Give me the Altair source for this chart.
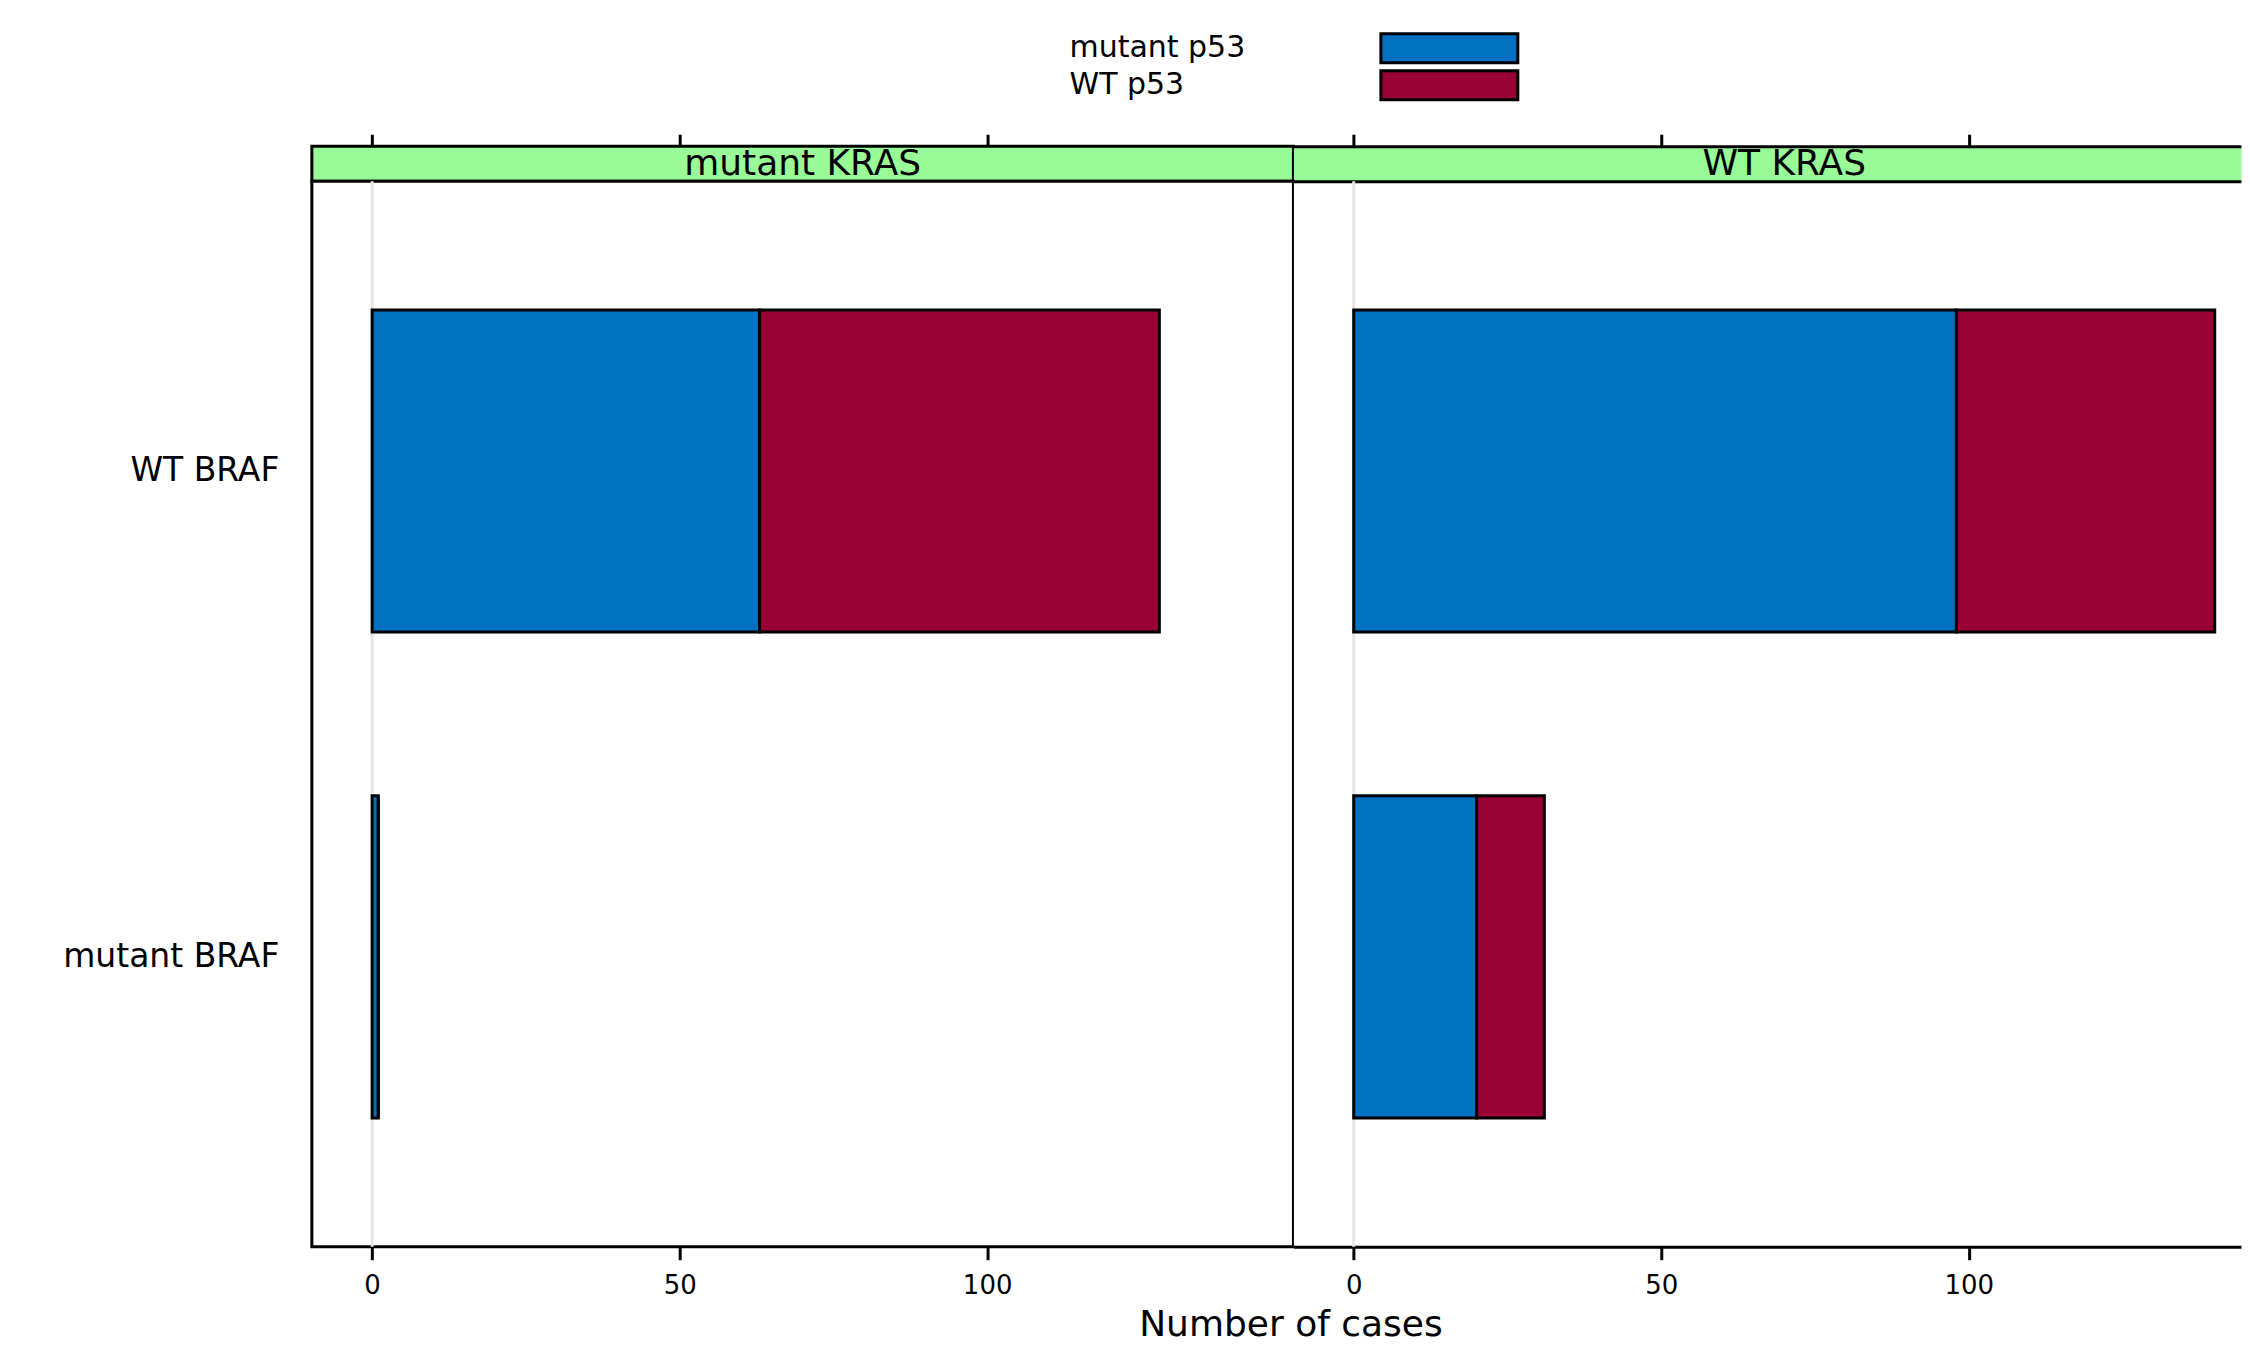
import altair as alt
import pandas as pd

# ---- data ----
kras_levels = ["mutant KRAS", "WT KRAS"]
braf_levels = ["WT BRAF", "mutant BRAF"]
p53_levels = ["mutant p53", "WT p53"]

# counts per p53 status: [mutant p53, WT p53]
mutKRAS_WTBRAF = [63, 65]
mutKRAS_mutBRAF = [1, 0]
WTKRAS_WTBRAF = [98, 42]
WTKRAS_mutBRAF = [20, 11]

x_ticks = [0, 50, 100]
p53_colors = ["#0071C1", "#990033"]

rows = []
tables = [[mutKRAS_WTBRAF, mutKRAS_mutBRAF], [WTKRAS_WTBRAF, WTKRAS_mutBRAF]]
for k, table in zip(kras_levels, tables):
    for b, vals in zip(braf_levels, table):
        for i, (p, v) in enumerate(zip(p53_levels, vals)):
            rows.append(dict(kras=k, braf=b, p53=p, p53_order=i, count=v))
df = pd.DataFrame(rows)

# ---- layout constants ----
PANEL_W = 982          # full panel width
RIGHT_W = 948          # right panel is cut by the image edge
MAIN_H = 1066
STRIP_H = 35
X_LO, X_HI = -9.8, 149.8
X_HI_R = X_LO + (X_HI - X_LO) * RIGHT_W / PANEL_W
FONT = "DejaVu Sans"
LW = 3

color_scale = alt.Scale(domain=p53_levels, range=p53_colors)
legend = alt.Legend(
    title=None, orient="none", legendX=726, legendY=-114,
    # wide swatch drawn to the right of its label (lattice key layout)
    symbolType="M22.586,-1H32.034V1H22.586Z", symbolSize=841,
    symbolStrokeColor="black", symbolStrokeWidth=LW, symbolOpacity=1,
    symbolOffset=0,
    labelFontSize=30, labelColor="black", labelAlign="left",
    labelOffset=0, labelLimit=0, rowPadding=alt.ExprRef(expr="-9"), padding=0,
)


def xscale(hi):
    return alt.Scale(domain=[X_LO, hi], nice=False, zero=False)


def main_panel(k, first):
    sub = df[df.kras == k]
    hi = X_HI if first else X_HI_R
    xaxis = alt.Axis(
        values=x_ticks, grid=False, domain=not first, domainColor="black",
        domainWidth=LW, ticks=True, tickSize=13,
        tickWidth=LW, tickColor="black", labelFontSize=26, labelColor="black",
        labelPadding=13, labelFlush=False,
        title="Number of cases" if first else None,
        titleFontSize=36, titleFontWeight="normal", titleColor="black",
        titleX=979, titleY=89, titleAlign="center", titleBaseline="alphabetic",
    )
    top_axis = alt.Axis(
        orient="top", values=x_ticks, grid=False, domain=True, domainColor="black",
        domainWidth=LW, ticks=False, labels=False, title=None,
    )
    if first:
        yaxis = alt.Axis(
            title=None, domain=False, ticks=False, grid=False,
            labelFontSize=33, labelColor="black", labelPadding=33,
            labelLimit=0, minExtent=302, maxExtent=302,
        )
    else:
        yaxis = None
    zero_df = pd.DataFrame({"count": [0]})
    rule = alt.Chart(zero_df).mark_rule(color="#E6E6E6", strokeWidth=LW).encode(
        x=alt.X("count:Q", scale=xscale(hi), axis=xaxis if first else top_axis)
    )
    bars = alt.Chart(sub).mark_bar(stroke="black", strokeWidth=LW).encode(
        x=alt.X("count:Q", stack="zero", scale=xscale(hi), axis=xaxis),
        y=alt.Y("braf:N", sort=braf_levels,
                scale=alt.Scale(domain=braf_levels, paddingInner=0.337, paddingOuter=0.265),
                axis=yaxis),
        color=alt.Color("p53:N", scale=color_scale, legend=legend),
        order=alt.Order("p53_order:Q", sort="ascending"),
    )
    if first:
        return alt.layer(rule, bars).properties(
            width=PANEL_W, height=MAIN_H,
            view=alt.ViewBackground(stroke="black", strokeWidth=LW, fill="white"),
        )
    return alt.layer(rule, bars).resolve_axis(x="independent").properties(
        width=RIGHT_W, height=MAIN_H,
        view=alt.ViewBackground(stroke="transparent", fill="white"),
    )


def strip_panel(k, first):
    sdf = pd.DataFrame({"kras": [k], "count": [0]})
    base = alt.Chart(sdf)
    hi = X_HI if first else X_HI_R
    ticks = base.mark_rule(strokeOpacity=0).encode(
        x=alt.X("count:Q", scale=xscale(hi), axis=alt.Axis(
            orient="top", values=x_ticks, labels=False, grid=False,
            domain=not first, domainColor="black", domainWidth=LW,
            ticks=True, tickSize=12, tickWidth=LW, tickColor="black", title=None))
    )
    label = base.mark_text(fontSize=36, color="black", baseline="middle", align="center").encode(
        text="kras:N", x=alt.value(PANEL_W / 2), y=alt.value(STRIP_H / 2)
    )
    view = (alt.ViewBackground(fill="#98FB98", stroke="black", strokeWidth=LW) if first
            else alt.ViewBackground(fill="#98FB98", stroke="transparent"))
    return alt.layer(ticks, label).properties(
        width=PANEL_W if first else RIGHT_W, height=STRIP_H, view=view,
    )


chart = alt.concat(
    strip_panel(kras_levels[0], True), strip_panel(kras_levels[1], False),
    main_panel(kras_levels[0], True), main_panel(kras_levels[1], False),
    columns=2, spacing=0, bounds="flush", align="each",
).properties(
    padding={"left": 0, "top": 24, "right": 0, "bottom": 0},
).configure(font=FONT)

chart.save("out.html", embed_options={"renderer": "svg", "actions": False})
